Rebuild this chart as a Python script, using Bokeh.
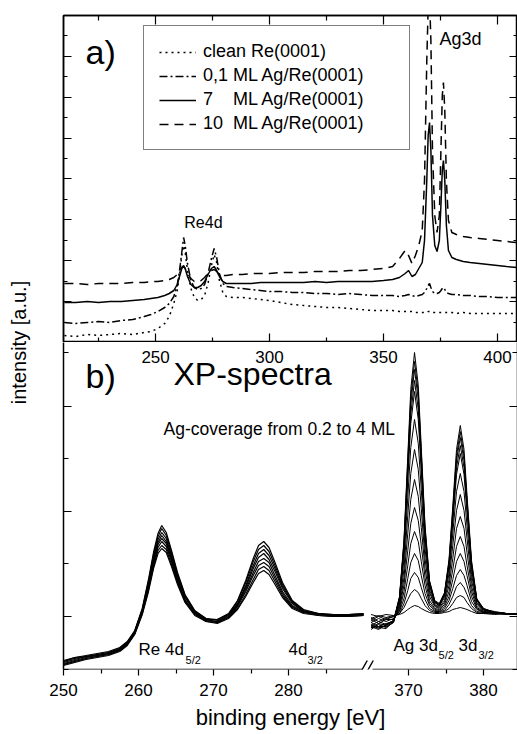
from bokeh.plotting import figure
from bokeh.models import Range1d, LinearAxis, FixedTicker, Legend, LegendItem, Arrow, Label
from bokeh.layouts import row, column
from bokeh.embed import file_html
from bokeh.resources import INLINE

FONT = "Liberation Sans"

# ---------------- panel a) survey spectra ----------------
E_A = [210, 215, 220, 225, 230, 235, 240, 245, 248, 251, 254, 256, 258, 259.5, 260.5, 261.5,
       262.3, 263, 264, 265.5, 267, 268.5, 270, 271.5, 273, 274.5, 275.7, 276.8, 278, 279.5,
       281, 284, 288, 292, 296, 300, 305, 310, 315, 320, 325, 330, 335, 340, 345, 350, 354,
       357, 359.5, 361, 362.5, 364, 365.5, 367, 368, 369, 369.6, 370.2, 370.8, 371.5, 372.5,
       373.5, 374.5, 375.2, 375.8, 376.3, 376.9, 377.6, 378.5, 380, 382, 385, 388, 392, 396,
       400, 404, 408.8]
CLEAN = [7, 6, 8, 7, 8, 9, 8, 10, 11, 14, 19, 26, 39, 52, 67, 87, 97, 90, 72, 54, 45, 42, 43, 47,
         59, 77, 88, 80, 62, 50, 46, 45, 45, 44, 43, 42, 40, 38, 37, 36, 35, 35, 34, 33, 32, 32,
         32, 31, 31, 31, 31, 30, 30, 30, 30, 30, 31, 31, 30, 30, 30, 30, 30, 30, 30, 30, 30, 30,
         30, 30, 29, 30, 29, 29, 29, 29, 29, 29]
ML01 = [20, 19, 20, 21, 20, 22, 23, 26, 28, 31, 35, 39, 46, 57, 72, 90, 105, 97, 79, 62, 55, 53,
        54, 58, 69, 84, 94, 85, 69, 59, 56, 55, 54, 53, 52, 51, 51, 50, 50, 49, 49, 48, 49, 48,
        47, 47, 47, 46, 47, 48, 47, 46, 47, 48, 50, 54, 57, 59, 55, 51, 49, 49, 50, 52, 54, 55,
        53, 50, 49, 48, 48, 47, 47, 46, 46, 45, 45, 45]
ML7 = [40, 40, 41, 40, 41, 41, 42, 43, 44, 45, 47, 49, 52, 58, 66, 74, 77, 74, 66, 58, 55, 55,
       57, 61, 68, 74, 76, 72, 66, 61, 59, 59, 59, 59, 60, 60, 60, 60, 60, 61, 60, 61, 61, 61,
       61, 62, 63, 65, 69, 72, 66, 68, 74, 80, 102, 162, 207, 220, 192, 127, 97, 91, 102, 137,
       172, 182, 162, 117, 92, 85, 83, 81, 80, 79, 78, 77, 76, 75]
ML10 = [59, 59, 58, 59, 59, 59, 60, 60, 61, 61, 62, 63, 65, 68, 72, 75, 76, 74, 69, 64, 61, 61,
        62, 65, 69, 72, 73, 71, 68, 67, 67, 68, 68, 69, 69, 69, 70, 70, 70, 71, 71, 71, 72, 72,
        73, 74, 76, 84, 92, 87, 79, 87, 97, 112, 162, 282, 335, 345, 302, 192, 127, 110, 127,
        192, 247, 260, 232, 162, 122, 110, 108, 106, 105, 104, 103, 102, 101, 100]
LEGEND_LABELS = ["clean Re(0001)",
                 "0,1 ML Ag/Re(0001)",
                 "7\u00a0\u00a0\u00a0\u00a0ML Ag/Re(0001)",
                 "10\u00a0\u00a0ML Ag/Re(0001)"]
A_XTICKS = [250, 300, 350, 400]
A_XMINOR = [225, 275, 325, 375]
A_YTICKS = [0, 41, 82, 123, 164, 204, 245, 286, 327]
A_YMINOR = [20, 61, 102, 143, 184, 225, 266, 307]

# ---------------- panel b) coverage series ----------------
E_RE = [250, 251.5, 253, 254.5, 256, 257.5, 258.5, 259.5, 260.5, 261.3, 262, 262.6, 263.1,
        263.7, 264.4, 265.2, 266.2, 267.5, 269, 270.5, 272, 273.2, 274.3, 275.3, 276, 276.7,
        277.4, 278.2, 279.2, 280.5, 282, 284, 286, 288, 290]
RE_SPECTRA = [
    [9, 12, 14, 16, 18, 22, 28, 39, 61, 89, 117, 136, 144, 137, 119, 97, 75, 59, 51, 50, 56, 69, 89, 111, 124, 128, 122, 107, 87, 69, 60, 56, 55, 55, 56],
    [8, 12, 13, 15, 17, 21, 27, 38, 60, 87, 115, 133, 141, 134, 117, 95, 74, 58, 51, 49, 55, 68, 87, 108, 120, 124, 118, 104, 85, 68, 59, 56, 55, 55, 56],
    [8, 11, 13, 15, 17, 21, 27, 38, 59, 86, 112, 130, 137, 131, 114, 94, 73, 58, 50, 50, 55, 66, 84, 104, 116, 120, 114, 101, 83, 67, 59, 55, 54, 54, 55],
    [7, 10, 13, 14, 16, 20, 26, 37, 58, 84, 110, 127, 134, 128, 112, 92, 72, 57, 50, 48, 54, 65, 82, 101, 112, 116, 110, 98, 81, 66, 58, 55, 54, 54, 55],
    [6, 9, 12, 14, 16, 20, 26, 37, 58, 82, 108, 125, 131, 126, 110, 90, 70, 56, 49, 48, 53, 64, 80, 97, 108, 111, 107, 94, 78, 64, 58, 55, 54, 55, 55],
    [5, 8, 11, 13, 15, 19, 25, 36, 57, 80, 106, 122, 128, 123, 108, 88, 69, 55, 49, 47, 52, 63, 78, 94, 104, 107, 103, 91, 76, 63, 57, 56, 54, 54, 55],
    [5, 8, 11, 13, 15, 19, 25, 36, 56, 79, 103, 119, 124, 120, 105, 87, 68, 56, 48, 47, 52, 61, 75, 90, 100, 103, 99, 88, 74, 62, 57, 54, 53, 53, 54],
    [4, 7, 10, 12, 14, 18, 24, 35, 55, 77, 101, 116, 121, 117, 103, 85, 67, 54, 48, 46, 51, 60, 73, 87, 96, 99, 95, 85, 72, 61, 56, 54, 53, 53, 54],
]
E_AG = [365, 366, 367, 368, 368.8, 369.4, 369.9, 370.3, 370.8, 371.3, 371.7, 372.2, 372.8,
        373.5, 374.1, 374.8, 375.4, 375.9, 376.4, 376.9, 377.4, 377.8, 378.4, 379.1, 380,
        381.5, 383, 385]
AG_SPECTRA = [
    [55, 53, 55, 54, 55, 57, 60, 62, 64, 63, 61, 59, 57, 56, 56, 57, 58, 60, 61, 62, 61, 60, 58, 56, 56, 55, 56, 55],
    [51, 54, 52, 54, 56, 62, 70, 76, 80, 77, 71, 64, 59, 57, 57, 58, 61, 66, 72, 74, 72, 67, 61, 57, 56, 57, 55, 56],
    [49, 53, 50, 53, 56, 66, 79, 91, 97, 92, 82, 70, 61, 58, 58, 59, 65, 73, 83, 87, 82, 75, 64, 58, 57, 56, 56, 55],
    [52, 48, 51, 53, 58, 71, 91, 107, 116, 109, 94, 76, 64, 59, 58, 61, 69, 81, 94, 100, 94, 84, 68, 60, 57, 56, 55, 56],
    [47, 51, 48, 51, 59, 78, 104, 126, 138, 128, 108, 84, 66, 60, 59, 63, 73, 90, 108, 116, 108, 94, 73, 61, 57, 57, 56, 55],
    [50, 46, 50, 50, 61, 85, 119, 146, 162, 149, 124, 92, 69, 61, 60, 65, 78, 100, 123, 133, 123, 104, 78, 62, 58, 56, 56, 56],
    [44, 48, 45, 49, 63, 92, 136, 170, 190, 173, 142, 101, 73, 63, 61, 67, 84, 111, 141, 153, 141, 117, 83, 64, 58, 57, 56, 55],
    [47, 43, 46, 48, 65, 101, 154, 196, 220, 200, 161, 111, 77, 64, 62, 69, 90, 124, 159, 175, 159, 131, 89, 66, 59, 57, 56, 56],
    [42, 46, 44, 49, 68, 111, 172, 222, 250, 226, 180, 121, 80, 65, 63, 72, 96, 136, 178, 196, 178, 144, 95, 67, 60, 57, 56, 55],
    [45, 41, 44, 48, 70, 119, 190, 246, 278, 250, 198, 131, 84, 67, 64, 74, 102, 147, 195, 216, 195, 157, 101, 69, 60, 57, 56, 56],
    [42, 43, 43, 47, 71, 122, 196, 255, 289, 260, 205, 134, 85, 67, 64, 75, 104, 151, 202, 224, 202, 162, 103, 69, 60, 57, 56, 55],
    [40, 45, 42, 47, 72, 126, 203, 265, 300, 270, 212, 138, 87, 68, 65, 76, 106, 156, 209, 232, 209, 167, 105, 70, 60, 58, 56, 55],
    [44, 42, 41, 48, 72, 128, 208, 272, 308, 277, 217, 141, 88, 68, 65, 76, 108, 159, 214, 238, 214, 170, 107, 70, 61, 57, 56, 56],
    [43, 40, 45, 49, 73, 130, 213, 280, 317, 284, 222, 144, 89, 69, 66, 77, 110, 163, 220, 244, 220, 174, 109, 71, 61, 57, 56, 56],
]
B_XTICKS_LEFT = [250, 260, 270, 280]
B_XMINOR_LEFT = [255, 265, 275, 285]
B_XTICKS_RIGHT = [370, 380]
B_XMINOR_RIGHT = [375]
B_YTICKS = [53, 158, 263]
B_YMINOR = [0, 106, 211, 317]

# broken energy axis: [250, 290] // [365, 385]
BREAK_LEFT_END = 290
BREAK_RIGHT_START = 365
BREAK_GAP = 1
SHIFT = BREAK_RIGHT_START - BREAK_LEFT_END - BREAK_GAP


def disp(e):
    return e - SHIFT


def style_axis(ax, tin, tout, mtin, mtout, labels=False, size="17px", standoff=8, line=True):
    ax.major_tick_in = tin
    ax.major_tick_out = tout
    ax.minor_tick_in = mtin
    ax.minor_tick_out = mtout
    ax.major_tick_line_color = "black"
    ax.minor_tick_line_color = "black"
    ax.major_tick_line_width = 1.2
    ax.minor_tick_line_width = 1.2
    ax.axis_line_color = "black" if line else None
    ax.axis_line_width = 1.5
    if labels:
        ax.major_label_text_font = FONT
        ax.major_label_text_font_size = size
        ax.major_label_text_color = "black"
        ax.major_label_standoff = standoff
    else:
        ax.major_label_text_font_size = "0px"
        ax.major_label_standoff = 0


def lab(p, x, y, t, size_px, align="left"):
    # y is the text baseline; text is anchored at its middle (0.3465 em above baseline)
    p.add_layout(Label(x=x, y=y + 0.3465 * size_px, text=t, text_font=FONT,
                       text_font_size=f"{size_px}px", text_color="black",
                       text_align=align, text_baseline="middle"))


# ---------------- figure a ----------------
pa = figure(width=477, height=342, x_range=Range1d(209.6, 408.8), y_range=Range1d(0, 327),
            output_backend="svg", toolbar_location=None,
            x_axis_location=None, y_axis_location=None,
            min_border_left=23, min_border_right=0, min_border_top=15, min_border_bottom=0,
            outline_line_color="black", outline_line_width=1.5,
            background_fill_color="white", border_fill_color="white")
for g in pa.grid:
    g.visible = False
for loc in ("below", "above"):
    ax = LinearAxis(ticker=FixedTicker(ticks=A_XTICKS, minor_ticks=A_XMINOR))
    style_axis(ax, 9, 0, 5, 0)
    pa.add_layout(ax, loc)
for loc in ("left", "right"):
    ax = LinearAxis(ticker=FixedTicker(ticks=A_YTICKS, minor_ticks=A_YMINOR))
    style_axis(ax, 8, 0, 4, 0)
    pa.add_layout(ax, loc)

r1 = pa.line(E_A, CLEAN, line_color="black", line_width=1.5, line_dash="2 4")
r2 = pa.line(E_A, ML01, line_color="black", line_width=1.5, line_dash="8 3 2 3")
r3 = pa.line(E_A, ML7, line_color="black", line_width=1.5)
r4 = pa.line(E_A, ML10, line_color="black", line_width=1.5, line_dash="9 6")

legend = Legend(items=[LegendItem(label=l, renderers=[r]) for l, r in
                       zip(LEGEND_LABELS, [r1, r2, r3, r4])],
                location=(80, 192), margin=0, padding=15, spacing=3,
                glyph_width=37, glyph_height=20, label_height=20, label_standoff=7,
                label_width=191,
                label_text_font=FONT, label_text_font_size="18px", label_text_color="black",
                border_line_color="black", border_line_width=1.2,
                background_fill_color="white", background_fill_alpha=1)
pa.add_layout(legend)

lab(pa, 219.3, 279, "a)", 34)
lab(pa, 271.0, 114, "Re4d", 16, "center")
lab(pa, 374.6, 297, "Ag3d", 18)

# ---------------- figure b ----------------
pb = figure(width=477, height=392, x_range=Range1d(250, 310.53), y_range=Range1d(0, 327),
            output_backend="svg", toolbar_location=None,
            x_axis_location=None, y_axis_location=None,
            min_border_left=23, min_border_right=0, min_border_top=0, min_border_bottom=65,
            outline_line_color=None,
            background_fill_color="white", border_fill_color="white")
for g in pb.grid:
    g.visible = False
pb.extra_x_ranges = {"a": Range1d(209.6, 408.8)}

xb = LinearAxis(ticker=FixedTicker(ticks=B_XTICKS_LEFT + [disp(e) for e in B_XTICKS_RIGHT],
                                   minor_ticks=B_XMINOR_LEFT + [disp(e) for e in B_XMINOR_RIGHT]),
                major_label_overrides={disp(e): str(e) for e in B_XTICKS_RIGHT},
                axis_label="binding energy [eV]")
style_axis(xb, 0, 6, 0, 4, labels=True, size="17px", standoff=8, line=False)
xb.axis_label_text_font = FONT
xb.axis_label_text_font_size = "22px"
xb.axis_label_text_font_style = "normal"
xb.axis_label_text_color = "black"
xb.axis_label_standoff = 6
pb.add_layout(xb, "below")

for loc in ("left", "right"):
    ax = LinearAxis(ticker=FixedTicker(ticks=B_YTICKS, minor_ticks=B_YMINOR))
    style_axis(ax, 8, 0, 5, 0)
    pb.add_layout(ax, loc)

# tick labels of panel a's energy axis: an axis whose labels fall just inside panel b
xa_lab = LinearAxis(x_range_name="a", ticker=FixedTicker(ticks=A_XTICKS, minor_ticks=[]))
style_axis(xa_lab, 0, 0, 0, 0, labels=True, size="17px", standoff=-20, line=False)
pb.add_layout(xa_lab, "above")

for ys in RE_SPECTRA:
    pb.line(E_RE, ys, line_color="black", line_width=1.2)
E_AG_D = [disp(e) for e in E_AG]
for ys in AG_SPECTRA:
    pb.line(E_AG_D, ys, line_color="black", line_width=1.0)

# bottom frame line with break marks
for xs, xe in ((250, BREAK_LEFT_END - 0.1), (BREAK_LEFT_END + BREAK_GAP + 0.2, 310.6)):
    pb.add_layout(Arrow(end=None, x_start=xs, y_start=0, x_end=xe, y_end=0,
                        line_color="black", line_width=1.5))
for dx in (-0.7, 0.1):
    pb.add_layout(Arrow(end=None, x_start=BREAK_LEFT_END + dx, y_start=-7,
                        x_end=BREAK_LEFT_END + dx + 1.2, y_end=9,
                        line_color="black", line_width=1.4))

lab(pb, 252.93, 282, "b)", 34)
lab(pb, 264.67, 284, "XP-spectra", 32)
lab(pb, 263.33, 234, "Ag-coverage from 0.2 to 4 ML", 17.5)
lab(pb, 260.0, 14, "Re 4d", 17)
lab(pb, 266.27, 6, "5/2", 11)
lab(pb, 280.0, 14, "4d", 17)
lab(pb, 282.53, 6, "3/2", 11)
lab(pb, disp(368.0), 18, "Ag 3d", 17)
lab(pb, disp(374.0), 11, "5/2", 11)
lab(pb, disp(376.67), 18, "3d", 17)
lab(pb, disp(379.33), 11, "3/2", 11)

# ---------------- shared y-axis title ----------------
pl = figure(width=40, height=734, title="intensity [a.u.]", title_location="left",
            output_backend="svg", toolbar_location=None,
            x_axis_location=None, y_axis_location=None,
            min_border_left=0, min_border_right=0, min_border_top=15, min_border_bottom=65,
            outline_line_color=None, background_fill_color="white", border_fill_color="white")
for g in pl.grid:
    g.visible = False
pl.title.text_font = FONT
pl.title.text_font_size = "20px"
pl.title.text_font_style = "normal"
pl.title.text_color = "black"
pl.title.align = "center"
pl.title.standoff = 10

layout = row(pl, column(pa, pb))
open("out.html", "w").write(file_html(layout, INLINE))
